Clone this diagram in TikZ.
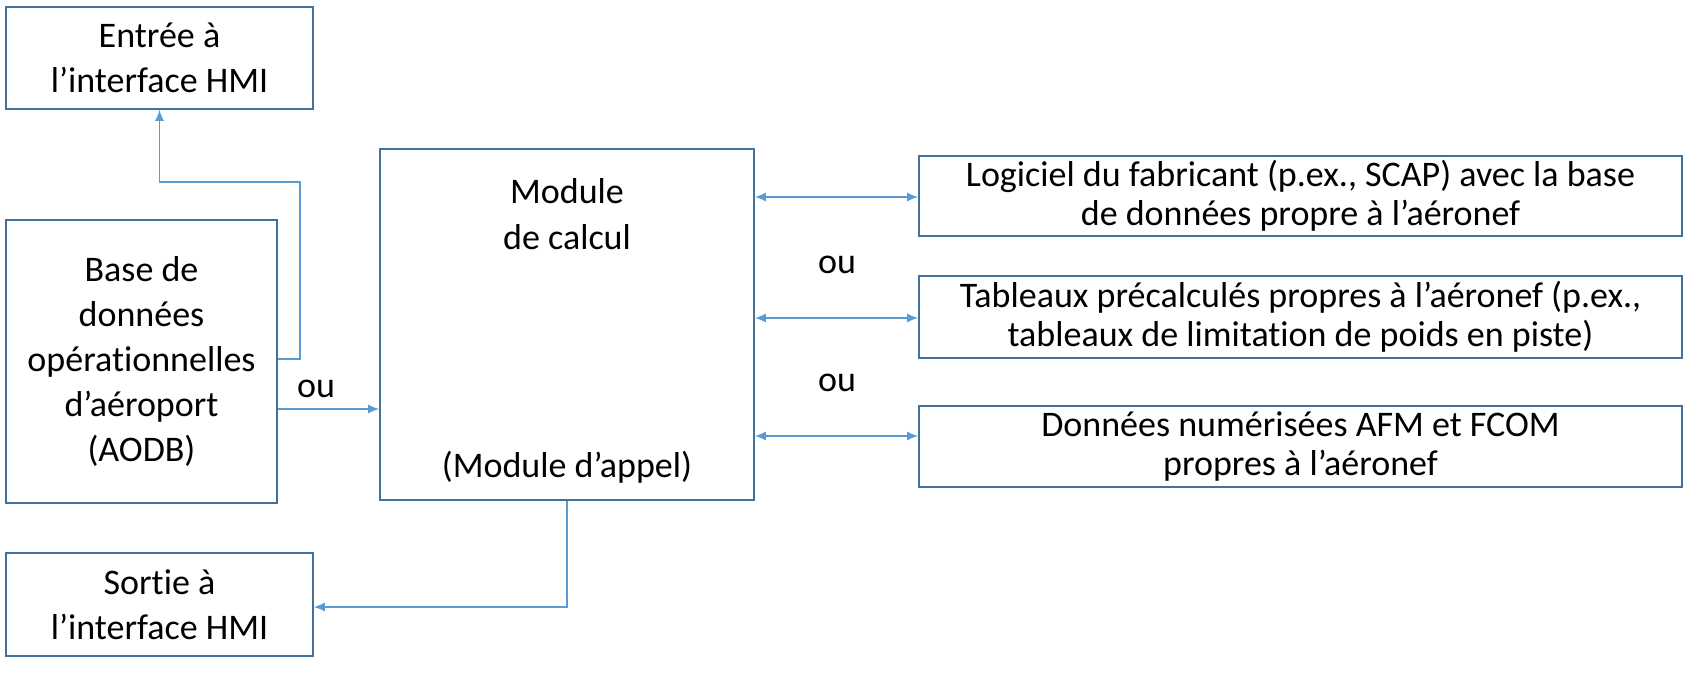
\documentclass[tikz,border=0pt]{standalone}
\usepackage{fontspec}
\setmainfont{Carlito}[Ligatures=NoCommon]
\usetikzlibrary{arrows, arrows.meta}
\definecolor{boxblue}{HTML}{41719C}
\definecolor{lineblue}{HTML}{5B9BD5}
\tikzset{>={Latex[length=11pt,width=9pt]}}
\tikzset{
  blk/.style={draw=boxblue, line width=1.8pt, align=center, inner sep=0pt,
    font=\fontsize{36}{45}\selectfont},
  wire/.style={draw=lineblue, line width=1.2pt},
  lbl/.style={font=\fontsize{36}{44}\selectfont}
}
\begin{document}
\begin{tikzpicture}[x=1pt, y=-1pt]
	\useasboundingbox (0,0) rectangle (1687,675);

	% Boites
	\node[blk, minimum width=307pt, minimum height=102pt] (entree) at (159.5,58) {Entrée à\\l’interface HMI};
	\node[blk, minimum width=271pt, minimum height=283pt] (aodb) at (141.5,361.5)
	{Base de\\données\\opérationnelles\\d’aéroport\\(AODB)};
	\node[blk, minimum width=374pt, minimum height=351pt] (calcul) at (567,324.5) {};
	\node[lbl, font=\fontsize{36}{46}\selectfont, align=center] (titre) at (567,214) {Module\\de calcul};
	\node[lbl] (appel) at (567,467) {(Module d’appel)};
	\node[blk, minimum width=307pt, minimum height=103pt] (sortie) at (159.5,604.5) {Sortie à\\l’interface HMI};

	\node[blk, font=\fontsize{36}{39}\selectfont, minimum width=763pt, minimum height=80pt] (logiciel) at (1300.5,196)
	{Logiciel du fabricant (p.ex., SCAP) avec la base\\de données propre à l’aéronef};
	\node[blk, font=\fontsize{36}{39}\selectfont, minimum width=763pt, minimum height=82pt] (tableaux) at (1300.5,317)
	{Tableaux précalculés propres à l’aéronef (p.ex.,\\tableaux de limitation de poids en piste)};
	\node[blk, font=\fontsize{36}{39}\selectfont, minimum width=763pt, minimum height=81pt] (afm) at (1300.5,446.5)
	{Données numérisées AFM et FCOM\\propres à l’aéronef};

	% Liaisons
	\coordinate (c1) at (300,359);
	\coordinate (c2) at (300,182);
	\draw[wire, ->] (aodb.east |- c1) -- (c1) -- (c2) -- (entree.south |- c2) -- (entree.south);
	\draw[wire, ->] (aodb.east |- 0,409) -- (calcul.west |- 0,409);
	\node[lbl] (ou0) at (316,389) {ou};
	\coordinate (c3) at (567,607);
	\draw[wire, ->] (calcul.south) -- (c3) -- (sortie.east |- c3);

	\foreach \cible/\y in {logiciel/197, tableaux/318, afm/436}
	{
	\draw[wire, <->] (calcul.east |- 0,\y) -- (\cible.west |- 0,\y);
	}
	\node[lbl] (ou1) at (837,265) {ou};
	\node[lbl] (ou2) at (837,383) {ou};
\end{tikzpicture}
\end{document}
